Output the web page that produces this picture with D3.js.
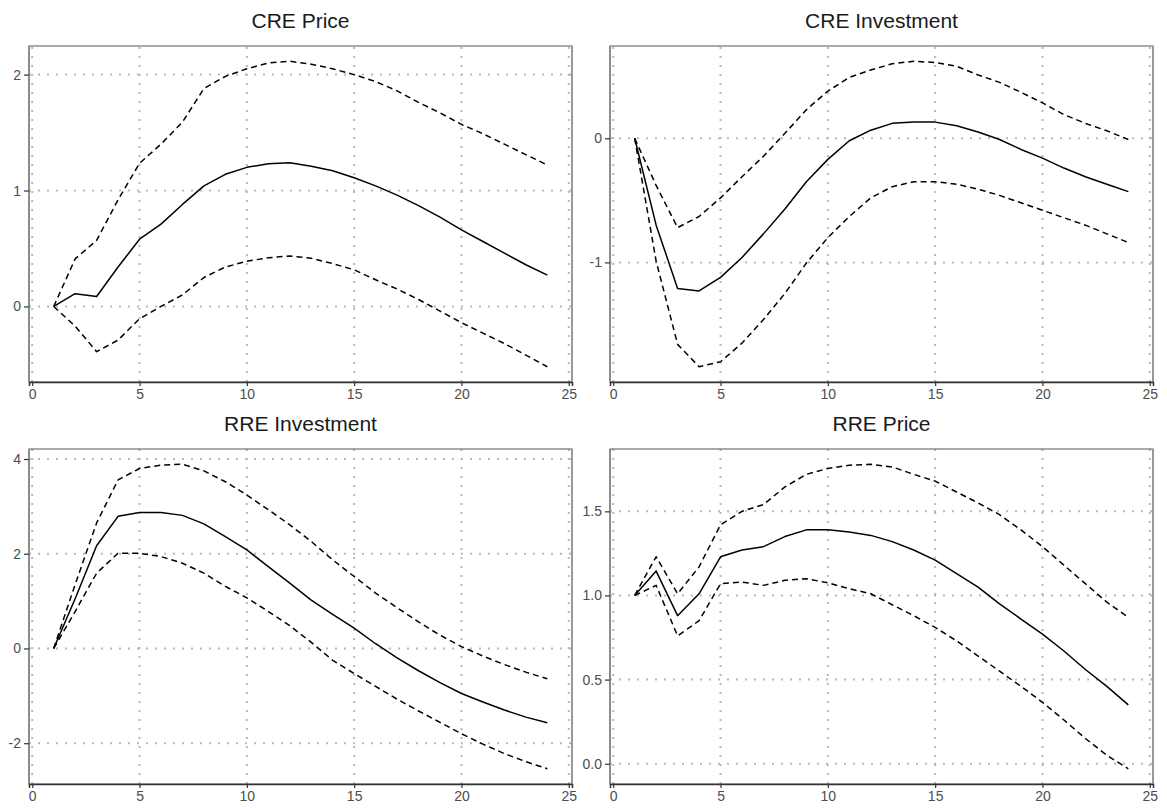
<!DOCTYPE html>
<html lang="en">
  <head>
    <title>Impulse responses: CRE / RRE</title>
    <meta charset="UTF-8" />
    <style>
      html,
      body {
        margin: 0;
        padding: 0;
        background: #fff;
      }
      svg {
        display: block;
        font-family: "Liberation Sans", Arial, sans-serif;
      }
      .tick text {
        font-size: 14px;
        fill: #4d4d4d;
      }
    </style>
    <script src="https://cdn.jsdelivr.net/npm/d3@7/dist/d3.min.js"></script>
  </head>
  <body>
    <script>
      const width = 1167;
      const height = 809;

      // horizon (quarters)
      const horizon = [1, 2, 3, 4, 5, 6, 7, 8, 9, 10, 11, 12, 13, 14, 15, 16, 17, 18, 19, 20, 21, 22, 23, 24];
      const xTicks = [0, 5, 10, 15, 20, 25];

      // CRE Price
      const crePriceMid = [0, 0.11, 0.086, 0.34, 0.58, 0.71, 0.88, 1.04, 1.14, 1.2, 1.23, 1.24, 1.21, 1.17, 1.11, 1.04, 0.96, 0.87, 0.77, 0.66, 0.56, 0.46, 0.36, 0.27];
      const crePriceUp = [0, 0.41, 0.57, 0.92, 1.235, 1.4, 1.59, 1.88, 1.985, 2.05, 2.1, 2.115, 2.09, 2.05, 2.0, 1.94, 1.86, 1.76, 1.67, 1.57, 1.49, 1.4, 1.31, 1.22];
      const crePriceLo = [0, -0.17, -0.39, -0.29, -0.106, 0.0, 0.1, 0.25, 0.34, 0.39, 0.42, 0.436, 0.415, 0.37, 0.316, 0.23, 0.15, 0.06, -0.04, -0.14, -0.23, -0.32, -0.42, -0.52];
      const crePriceTicks = [0, 1, 2];

      // CRE Investment
      const creInvMid = [0, -0.7, -1.21, -1.23, -1.12, -0.96, -0.77, -0.57, -0.35, -0.17, -0.02, 0.065, 0.12, 0.13, 0.13, 0.1, 0.05, -0.01, -0.09, -0.16, -0.24, -0.31, -0.37, -0.43];
      const creInvUp = [0, -0.38, -0.72, -0.63, -0.48, -0.31, -0.145, 0.04, 0.23, 0.38, 0.49, 0.55, 0.6, 0.62, 0.61, 0.58, 0.51, 0.45, 0.37, 0.285, 0.19, 0.12, 0.06, -0.01];
      const creInvLo = [0, -0.99, -1.66, -1.84, -1.8, -1.65, -1.46, -1.25, -1.005, -0.8, -0.63, -0.48, -0.39, -0.35, -0.35, -0.37, -0.41, -0.46, -0.52, -0.58, -0.64, -0.7, -0.77, -0.84];
      const creInvTicks = [-1, 0];

      // RRE Investment
      const rreInvMid = [0, 1.05, 2.17, 2.79, 2.87, 2.87, 2.81, 2.63, 2.36, 2.08, 1.73, 1.38, 1.02, 0.72, 0.43, 0.1, -0.2, -0.47, -0.72, -0.95, -1.13, -1.3, -1.45, -1.57];
      const rreInvUp = [0, 1.35, 2.65, 3.56, 3.8, 3.87, 3.89, 3.75, 3.52, 3.24, 2.93, 2.61, 2.26, 1.87, 1.52, 1.17, 0.86, 0.56, 0.28, 0.04, -0.16, -0.34, -0.5, -0.64];
      const rreInvLo = [0, 0.78, 1.59, 2.01, 2.01, 1.94, 1.8, 1.59, 1.31, 1.07, 0.78, 0.48, 0.13, -0.25, -0.53, -0.8, -1.07, -1.32, -1.56, -1.8, -2.02, -2.22, -2.39, -2.54];
      const rreInvTicks = [-2, 0, 2, 4];

      // RRE Price
      const rrePriceMid = [1.0, 1.145, 0.88, 1.01, 1.23, 1.27, 1.29, 1.35, 1.39, 1.39, 1.377, 1.357, 1.32, 1.27, 1.21, 1.13, 1.05, 0.95, 0.86, 0.77, 0.67, 0.56, 0.46, 0.35];
      const rrePriceUp = [1.0, 1.23, 1.01, 1.17, 1.42, 1.5, 1.54, 1.645, 1.72, 1.755, 1.774, 1.78, 1.764, 1.72, 1.68, 1.615, 1.55, 1.48, 1.39, 1.29, 1.18, 1.07, 0.96, 0.87];
      const rrePriceLo = [1.0, 1.06, 0.76, 0.85, 1.07, 1.08, 1.06, 1.09, 1.1, 1.075, 1.04, 1.01, 0.945, 0.88, 0.81, 0.73, 0.64, 0.55, 0.46, 0.365, 0.26, 0.15, 0.05, -0.03];
      const rrePriceTicks = [0, 0.5, 1, 1.5];

      // plain hyphen minus, like the original
      const intFmt = (d) => String(d);
      const oneDec = (d) => d.toFixed(1);

      const panels = [
        { title: "CRE Price", mid: crePriceMid, up: crePriceUp, lo: crePriceLo, ticks: crePriceTicks, fmt: intFmt, x0: 29, x1: 572, y0: 46, y1: 382, ty: 28 },
        { title: "CRE Investment", mid: creInvMid, up: creInvUp, lo: creInvLo, ticks: creInvTicks, fmt: intFmt, x0: 610, x1: 1153, y0: 46, y1: 382, ty: 28 },
        { title: "RRE Investment", mid: rreInvMid, up: rreInvUp, lo: rreInvLo, ticks: rreInvTicks, fmt: intFmt, x0: 29, x1: 572, y0: 449, y1: 784, ty: 431 },
        { title: "RRE Price", mid: rrePriceMid, up: rrePriceUp, lo: rrePriceLo, ticks: rrePriceTicks, fmt: oneDec, x0: 610, x1: 1153, y0: 449, y1: 784, ty: 431 },
      ];

      // ggplot style 5% expansion
      const expand = ([a, b]) => {
        const pad = (b - a) * 0.05;
        return [a - pad, b + pad];
      };

      const svg = d3
        .select(document.body)
        .append("svg")
        .attr("width", width)
        .attr("height", height);

      panels.forEach((p) => {
        const x = d3
          .scaleLinear()
          .domain(expand(d3.extent(horizon)))
          .range([p.x0, p.x1]);
        const y = d3
          .scaleLinear()
          .domain(expand(d3.extent([...p.mid, ...p.up, ...p.lo])))
          .range([p.y1, p.y0]);

        const g = svg.append("g");

        // grid
        g.append("g")
          .attr("stroke", "#b8b8b8")
          .attr("stroke-width", 2)
          .attr("stroke-dasharray", "2,7")
          .call((s) => {
            s.selectAll("line.vx")
              .data(xTicks)
              .join("line")
              .attr("class", "vx")
              .attr("x1", (d) => x(d))
              .attr("x2", (d) => x(d))
              .attr("y1", p.y1)
              .attr("y2", p.y0);
            s.selectAll("line.hy")
              .data(p.ticks)
              .join("line")
              .attr("class", "hy")
              .attr("x1", p.x0)
              .attr("x2", p.x1)
              .attr("y1", (d) => y(d))
              .attr("y2", (d) => y(d));
          });

        // border
        g.append("rect")
          .attr("x", p.x0)
          .attr("y", p.y0)
          .attr("width", p.x1 - p.x0)
          .attr("height", p.y1 - p.y0)
          .attr("fill", "none")
          .attr("stroke", "#555")
          .attr("stroke-width", 1);
        g.append("line")
          .attr("x1", p.x1)
          .attr("x2", p.x1)
          .attr("y1", p.y0)
          .attr("y2", p.y1)
          .attr("stroke", "#999")
          .attr("stroke-width", 2);
        g.append("line")
          .attr("x1", p.x0)
          .attr("x2", p.x0)
          .attr("y1", p.y0)
          .attr("y2", p.y1)
          .attr("stroke", "#8c8c8c")
          .attr("stroke-width", 2);

        // lines
        const line = (vals) =>
          d3
            .line()
            .x((d, i) => x(horizon[i]))
            .y((d) => y(d))(vals);

        [
          [p.up, "6,4"],
          [p.lo, "6,4"],
          [p.mid, null],
        ].forEach(([vals, dash]) => {
          g.append("path")
            .attr("d", line(vals))
            .attr("fill", "none")
            .attr("stroke", "#000")
            .attr("stroke-width", 1.5)
            .attr("stroke-linejoin", "round")
            .attr("stroke-dasharray", dash);
        });

        // axes
        const xAxis = g
          .append("g")
          .attr("transform", `translate(0,${p.y1})`)
          .call(d3.axisBottom(x).tickValues(xTicks).tickSize(4).tickPadding(3).tickFormat(intFmt));
        const yAxis = g
          .append("g")
          .attr("transform", `translate(${p.x0},0)`)
          .call(d3.axisLeft(y).tickValues(p.ticks).tickSize(5).tickPadding(3).tickFormat(p.fmt));

        [xAxis, yAxis].forEach((a) => {
          a.attr("font-family", null).attr("font-size", null);
          a.selectAll(".tick line").attr("stroke", "#333").attr("stroke-width", 1.2);
        });
        xAxis.select(".domain").attr("stroke", "#333").attr("stroke-width", 1.5);
        yAxis.select(".domain").remove();

        // title
        g.append("text")
          .attr("x", (p.x0 + p.x1) / 2)
          .attr("y", p.ty)
          .attr("text-anchor", "middle")
          .attr("fill", "#1a1a1a")
          .style("font-size", "21px")
          .text(p.title);
      });
    </script>
  </body>
</html>
